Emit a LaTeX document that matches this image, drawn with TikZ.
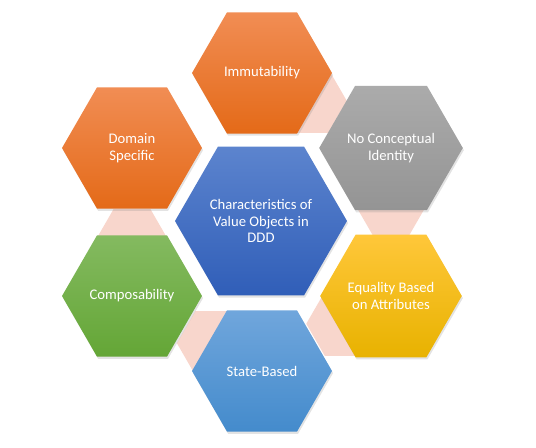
\documentclass[tikz,border=0pt]{standalone}
\usepackage{fontspec}
\setmainfont{Carlito}
\usetikzlibrary{shapes,shadows,calc,backgrounds}
\definecolor{orgtop}{RGB}{241,141,84}
\definecolor{orgbot}{RGB}{228,106,24}
\definecolor{grytop}{RGB}{171,171,171}
\definecolor{grybot}{RGB}{148,148,148}
\definecolor{yeltop}{RGB}{255,199,58}
\definecolor{yelbot}{RGB}{232,178,0}
\definecolor{lbltop}{RGB}{112,166,220}
\definecolor{lblbot}{RGB}{68,139,204}
\definecolor{grntop}{RGB}{132,186,96}
\definecolor{grnbot}{RGB}{100,166,54}
\definecolor{blutop}{RGB}{92,132,206}
\definecolor{blubot}{RGB}{48,94,184}
\definecolor{pinkband}{RGB}{248,214,204}
\tikzstyle{hexa}=[regular polygon, regular polygon sides=6, minimum size=105pt, inner sep=0pt, align=center, text=white, font=\fontsize{11}{12.5}\selectfont, drop shadow={opacity=0.22, shadow xshift=0.8pt, shadow yshift=-1.6pt}]
\tikzstyle{core}=[hexa, minimum size=129pt]
\tikzstyle{link}=[regular polygon, regular polygon sides=6, minimum size=55.5pt, inner sep=0pt, fill=pinkband]

\begin{document}
\begin{tikzpicture}[x=0.75pt, y=-0.75pt]
  \useasboundingbox (0,0) rectangle (536,448);
  % outer ring
  \node[hexa, top color=orgtop, bottom color=orgbot] (Immut)   at (262,73)  {Immutability};
  \node[hexa, top color=grytop, bottom color=grybot] (NoIdent) at (391,148) {No Conceptual\\Identity};
  \node[hexa, top color=yeltop, bottom color=yelbot] (Equal)   at (391,296) {Equality Based\\on Attributes};
  \node[hexa, top color=lbltop, bottom color=lblbot] (State)   at (262,371) {State-Based};
  \node[hexa, top color=grntop, bottom color=grnbot] (Compose) at (132,296) {Composability};
  \node[hexa, top color=orgtop, bottom color=orgbot] (Domain)  at (132,148) {Domain\\Specific};
  % links behind the ring
  \begin{scope}[on background layer]
    \node[link] (l1) at ($(Immut)!0.37!(NoIdent)$) {};
    \node[link] (l2) at ($(NoIdent)!0.37!(Equal)$) {};
    \node[link] (l3) at ($(Equal)!0.37!(State)$) {};
    \node[link] (l4) at ($(State)!0.37!(Compose)$) {};
    \node[link] (l5) at ($(Compose)!0.37!(Domain)$) {};
  \end{scope}
  \node[core, top color=blutop, bottom color=blubot] (Core) at (261,221) {Characteristics of\\Value Objects in\\DDD};
\end{tikzpicture}
\end{document}
